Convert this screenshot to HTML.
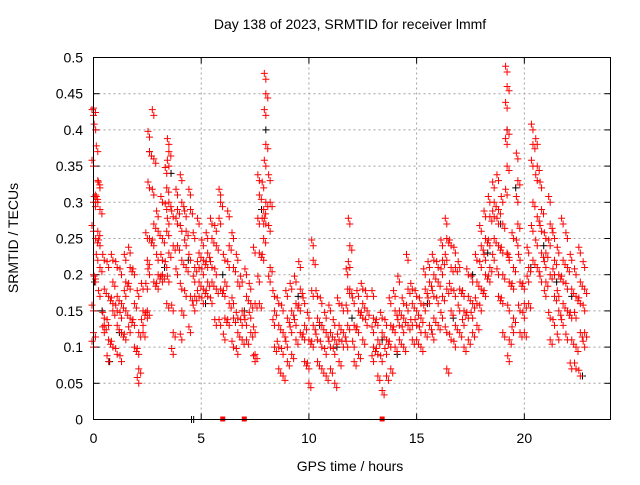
<!DOCTYPE html>
<html><head><meta charset="utf-8"><style>
body{margin:0;background:#fff}
svg text{font-family:"Liberation Sans",sans-serif;font-size:14px;fill:#000}
</style></head><body>
<svg id="chart" width="640" height="480" xmlns="http://www.w3.org/2000/svg">
<text x="350" y="29" text-anchor="middle">Day 138 of 2023, SRMTID for receiver lmmf</text>
<text x="350" y="471" text-anchor="middle">GPS time / hours</text>
<text transform="translate(18,238) rotate(-90)" text-anchor="middle">SRMTID / TECUs</text>
<g id="grid"></g>
<g id="ticks"></g>
<g id="black"></g>
<g id="red"></g>
<rect x="93.5" y="57.5" width="517" height="362" fill="none" stroke="#000"/>
</svg>
<script>
const xTicks=[0,5,10,15,20];
const yTicks=[0,0.05,0.1,0.15,0.2,0.25,0.3,0.35,0.4,0.45,0.5];
const yTickLabels=["0","0.05","0.1","0.15","0.2","0.25","0.3","0.35","0.4","0.45","0.5"];
const redHours=[0.0,0.1,0.2,0.3,0.5,0.7,0.9,1.1,1.3,1.5,1.7,1.9,2.1,2.3,2.5,2.6,2.8,3.0,3.2,3.4,3.5,3.7,3.9,4.1,4.3,4.5,4.7,4.9,5.1,5.3,5.5,5.7,5.9,6.1,6.3,6.5,6.7,6.9,7.1,7.3,7.5,7.7,7.9,8.0,8.2,8.4,8.6,8.8,9.0,9.2,9.4,9.6,9.8,10.0,10.2,10.4,10.6,10.8,11.0,11.2,11.4,11.6,11.8,11.9,12.1,12.3,12.5,12.7,13.0,13.2,13.4,13.6,13.8,14.0,14.2,14.4,14.6,14.8,15.0,15.2,15.4,15.6,15.8,16.0,16.2,16.4,16.6,16.8,17.0,17.2,17.4,17.6,17.8,18.0,18.2,18.4,18.6,18.8,19.0,19.2,19.3,19.5,19.7,19.8,20.0,20.2,20.4,20.6,20.8,21.0,21.2,21.4,21.6,21.8,22.0,22.2,22.4,22.6,22.8];
const redValues=[[.42,.43,.35,.30,.26,.20,.15,.12,.10],[.40,.31,.30,.25,.19],[.37,.33,.30,.26,.22],[.32,.29,.24,.21,.17],[.22,.18,.14,.13,.12],[.21,.17,.13,.11,.08],[.22,.19,.16,.15,.10],[.21,.17,.15,.13,.09],[.20,.16,.14,.12,.08],[.22,.19,.17,.15,.11],[.23,.21,.18,.14,.12],[.20,.16,.13,.10],[.17,.12,.09,.07,.05],[.18,.15,.13,.12],[.25,.22,.18,.15,.14],[.39,.37,.32,.25,.20],[.42,.36,.31,.27,.24,.19],[.28,.26,.22,.20,.18],[.30,.25,.22,.20,.19],[.34,.32,.29,.26,.21,.16],[.38,.37,.35,.30,.27,.23,.19],[.28,.24,.15,.12,.09],[.31,.29,.27,.24,.20],[.33,.30,.26,.22,.18,.15,.11],[.28,.26,.24,.21,.17],[.31,.29,.22,.17,.12],[.25,.21,.19,.17,.15],[.27,.23,.21,.19,.17],[.24,.22,.20,.18,.16],[.25,.23,.21,.19,.17],[.27,.25,.21,.19,.16],[.26,.24,.20,.18,.13],[.31,.30,.27,.18,.13],[.22,.19,.17,.14,.11],[.28,.24,.21,.16,.13],[.25,.21,.16,.14,.10],[.22,.19,.14,.12,.09],[.19,.15,.13,.11],[.20,.17,.13,.11],[.18,.16,.14,.12],[.23,.16,.12,.09,.08],[.33,.31,.27,.23,.19,.16],[.32,.29,.27,.25,.22],[.47,.45,.42,.38,.35,.30,.27],[.33,.30,.26,.21,.19],[.17,.15,.13,.10],[.16,.13,.10,.07],[.15,.12,.09,.06],[.17,.14,.10,.08],[.18,.15,.12,.09],[.19,.16,.13,.11],[.21,.18,.15,.12],[.16,.13,.11,.08],[.14,.11,.07,.05],[.24,.22,.17,.13,.10],[.17,.14,.11,.08],[.16,.13,.10,.07],[.14,.12,.09,.06],[.15,.12,.10,.07],[.13,.11,.09,.05],[.16,.13,.11,.08],[.15,.12,.10],[.20,.18,.15,.13,.10],[.27,.24,.21,.18],[.16,.13,.10,.08],[.17,.15,.12,.09],[.18,.16,.14,.11],[.17,.15,.13],[.17,.14,.12,.10,.08],[.13,.11,.09,.06],[.14,.12,.08,.04],[.13,.11,.09,.06],[.16,.13,.10,.07],[.17,.15,.12,.10],[.19,.15,.13,.11],[.16,.14,.12,.10],[.22,.18,.15,.13],[.18,.16,.13,.11],[.17,.15,.13,.11],[.16,.14,.12,.10],[.20,.18,.15,.12],[.21,.19,.16,.13],[.22,.20,.17,.14,.11],[.21,.19,.16,.13],[.24,.22,.20,.17,.14],[.27,.25,.22,.18,.12,.07],[.24,.21,.18,.15,.11],[.23,.21,.17,.13,.10],[.21,.18,.15,.12],[.17,.15,.13,.10],[.20,.17,.14,.11],[.19,.16,.14,.12],[.22,.19,.16,.13],[.26,.24,.21,.18,.15],[.28,.25,.22,.20,.17],[.30,.28,.24,.21,.19],[.32,.30,.28,.25,.22],[.33,.29,.27,.24,.20,.17],[.30,.27,.23,.20,.16,.12],[.48,.46,.43,.40,.38,.35,.31,.23],[.22,.19,.15,.11,.08],[.25,.21,.18,.14,.12],[.36,.33,.30,.27,.24],[.22,.19,.15,.12],[.18,.16,.14,.12],[.23,.21,.19,.16],[.40,.38,.35,.30,.26,.22],[.38,.35,.33,.28,.24,.21],[.32,.29,.26,.23,.19],[.25,.23,.21,.19,.17],[.30,.27,.24,.20,.14,.11],[.25,.22,.20,.17,.13],[.23,.20,.17,.15,.11],[.27,.22,.19,.16,.13],[.25,.21,.18,.15,.11],[.22,.18,.14,.11,.07],[.20,.17,.14,.10,.07],[.23,.19,.16,.12,.06],[.21,.18,.15,.12,.10]];
const blackHours=[0.05,0.4,0.75,1.2,2.6,3.3,3.6,4.4,5.2,6.0,7.0,7.8,8.0,9.5,10.5,11.3,12.0,13.4,14.1,15.5,16.7,17.6,18.3,18.9,19.2,19.6,20.3,20.9,21.5,22.2,22.7,4.55,4.65];
const blackValues=[.19,.15,.08,.12,.37,.21,.34,.22,.16,.20,.15,.29,.40,.17,.13,.10,.14,.11,.09,.16,.14,.20,.23,.27,.40,.32,.21,.24,.19,.17,.06,0,0];
const zeroHours=[6.0,7.0,13.4];
const zeroValues=[0,0,0];

const X0=93.5,X1=610.5,Y0=419.5,Y1=57.5,XMAX=24,YMAX=0.5;
const xs=h=>X0+(X1-X0)*h/XMAX;
const ys=v=>Y0-(Y0-Y1)*v/YMAX;
const NS="http://www.w3.org/2000/svg";
const grid=document.getElementById('grid'),ticks=document.getElementById('ticks');
function mk(tag,attrs,parent){const e=document.createElementNS(NS,tag);for(const k in attrs)e.setAttribute(k,attrs[k]);parent.appendChild(e);return e;}
xTicks.forEach(t=>{
  const x=xs(t);
  if(t>0){const g=mk('line',{x1:x,x2:x,y1:Y0,y2:Y1,stroke:'#a0a0a0','stroke-dasharray':'2,3'},grid);
  
  }
  mk('line',{x1:x,x2:x,y1:Y0,y2:Y0-6,stroke:'#000'},ticks);
  mk('line',{x1:x,x2:x,y1:Y1,y2:Y1+6,stroke:'#000'},ticks);
  const l=mk('text',{x:x,y:443,'text-anchor':'middle'},ticks);l.textContent=t;
  
  
});
yTicks.forEach((t,i)=>{
  const y=ys(t);
  if(t>0&&t<YMAX){const g=mk('line',{x1:X0,x2:X1,y1:y,y2:y,stroke:'#a0a0a0','stroke-dasharray':'2,3'},grid);
  
  }
  mk('line',{x1:X0,x2:X0+6,y1:y,y2:y,stroke:'#000'},ticks);
  mk('line',{x1:X1,x2:X1-6,y1:y,y2:y,stroke:'#000'},ticks);
  const l=mk('text',{x:83,y:y+5,'text-anchor':'end'},ticks);l.textContent=yTickLabels[i];
  
  
});
function plus(parent,h,v,color){
  const x=xs(h),y=ys(v);
  const p=mk('path',{d:`M${x-3.5},${y}H${x+3.5}M${x},${y-3.5}V${y+3.5}`,stroke:color,'stroke-width':1,fill:'none'},parent);
  
  
}
const bl=document.getElementById('black'),rd=document.getElementById('red');
blackHours.forEach((h,i)=>plus(bl,h,blackValues[i],'#000'));
redHours.forEach((h,i)=>redValues[i].forEach((v,j)=>{plus(rd,h,v,'#f00');plus(rd,h+(j%2?0.09:-0.07),v+(j%2?-0.006:0.008),'#f00');}));
zeroHours.forEach((h,i)=>{const r=mk('rect',{x:xs(h)-2.5,y:ys(zeroValues[i])-3,width:5,height:5,fill:'#f00'},rd);

});
</script>
</body></html>
